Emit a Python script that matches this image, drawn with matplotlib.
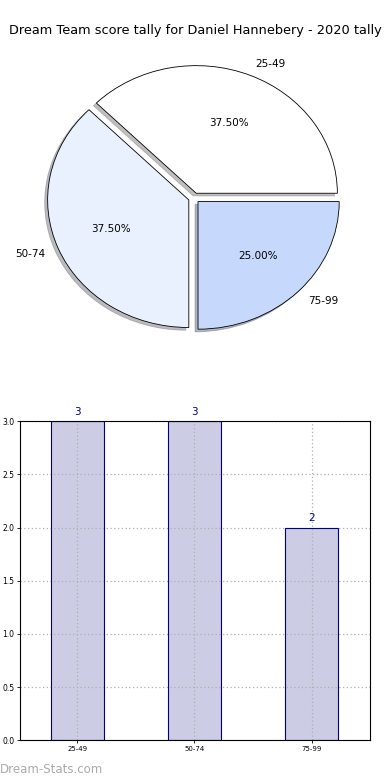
import matplotlib
matplotlib.use("Agg")
import matplotlib.pyplot as plt

TITLE = "Dream Team score tally for Daniel Hannebery - 2020 tally"
ranges = ["25-49", "50-74", "75-99"]
counts = [3, 3, 2]
pie_colors = ["#ffffff", "#eaf1fe", "#c6d9fd"]
y_ticks = [0.0, 0.5, 1.0, 1.5, 2.0, 2.5, 3.0]


def draw_pie(ax):
    wedges, texts, autotexts = ax.pie(
        counts, labels=ranges, colors=pie_colors, explode=[0.04, 0.04, 0.04],
        autopct="%1.2f%%", shadow={"ox": -0.015, "oy": -0.015, "shade": 0.5},
        startangle=0, counterclock=True,
        labeldistance=1.1, pctdistance=0.6,
        wedgeprops={"edgecolor": "black", "linewidth": 0.6},
        textprops={"fontsize": 7.5})
    ax.set_aspect("auto")
    ax.set_xlim(-1.25, 1.25)
    ax.set_ylim(-1.25, 1.25)


def draw_bars(ax):
    x = list(range(len(counts)))
    # fill below the grid, outline above it
    ax.bar(x, counts, width=0.45, color="#ccccE4", linewidth=0, zorder=2)
    bars = ax.bar(x, counts, width=0.45, fill=False, edgecolor="#000080",
                  linewidth=0.8, zorder=3.5)
    for b, c in zip(bars, counts):
        ax.text(b.get_x() + b.get_width() / 2, c + 0.04, str(c), ha="center",
                va="bottom", color="#000080", fontsize=7.5)
    ax.set_xlim(-0.49, 2.5)
    ax.set_ylim(0, 3.0)
    ax.set_yticks(y_ticks)
    ax.set_yticklabels(["%.1f" % t for t in y_ticks], fontsize=5.5)
    ax.set_xticks(x)
    ax.set_xticklabels(ranges, fontsize=5)
    ax.tick_params(length=2, width=0.6, pad=2)
    ax.grid(True, linestyle=(0, (1, 2)), color="#b0b0b0", linewidth=0.9, zorder=3)
    ax.set_axisbelow(False)
    for s in ax.spines.values():
        s.set_linewidth(0.8)
        s.set_zorder(4)


fig = plt.figure(figsize=(3.9, 7.8), dpi=100)
fig.text(0.5, 0.961, TITLE, ha="center", va="center", fontsize=9.3)

ax_pie = fig.add_axes([0.045, 0.5417, 0.905, 0.409])
draw_pie(ax_pie)

ax_bar = fig.add_axes([0.051, 0.051, 0.898, 0.409])
draw_bars(ax_bar)

fig.text(0.0, 0.013, "Dream-Stats.com", color="#aaaaaa", fontsize=8.5,
         ha="left", va="center")

fig.savefig("out.png", dpi=100)
